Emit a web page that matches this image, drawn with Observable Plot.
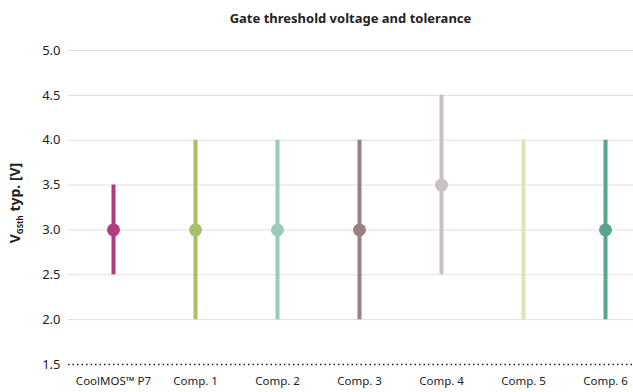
<!DOCTYPE html>
<html>
<head>
<meta charset="utf-8">
<script src="https://cdn.jsdelivr.net/npm/d3@7"></script>
<script src="https://cdn.jsdelivr.net/npm/@observablehq/plot@0.6"></script>
<style>
  html, body { margin: 0; padding: 0; background: #fff; }
  body { width: 633px; height: 392px; overflow: hidden; font-family: "Noto Sans", sans-serif; }
  #title { height: 30px; box-sizing: border-box; padding-left: 68px; text-align: center; font-weight: bold; font-size: 13px; line-height: 36px; color: #222; }
</style>
</head>
<body>
<div id="title">Gate threshold voltage and tolerance</div>
<div id="chart"></div>
<script>
const categories = ["CoolMOS™ P7", "Comp. 1", "Comp. 2", "Comp. 3", "Comp. 4", "Comp. 5", "Comp. 6"];
const minValues = [2.5, 2.0, 2.0, 2.0, 2.5, 2.0, 2.0];
const maxValues = [3.5, 4.0, 4.0, 4.0, 4.5, 4.0, 4.0];
const typValues = [3.0, 3.0, 3.0, 3.0, 3.5, null, 3.0];
const colors = ["#b03b7e", "#a8c06a", "#9ccabb", "#978284", "#cbbfc1", "#dde4b8", "#5aa592"];
const yTicks = [1.5, 2.0, 2.5, 3.0, 3.5, 4.0, 4.5, 5.0];
const gridTicks = [2.0, 2.5, 3.0, 3.5, 4.0, 4.5, 5.0];

const data = categories.map((c, i) => ({cat: c, min: minValues[i], max: maxValues[i], typ: typValues[i], color: colors[i]}));
const dots = data.filter(d => d.typ != null);

const W = 633, H = 362;
const plot = Plot.plot({
  width: W, height: H,
  marginLeft: 68, marginRight: 0, marginTop: 20, marginBottom: 28,
  style: {fontFamily: "Noto Sans, sans-serif", fontSize: "12px", color: "#222", background: "#fff"},
  x: {type: "point", domain: categories, range: [111, 606], padding: 0, label: null},
  y: {domain: [1.5, 5.0], label: null},
  color: {type: "ordinal", domain: categories, range: colors},
  marks: [
    Plot.ruleY(gridTicks, {stroke: "#e5dde0", strokeWidth: 1}),
    Plot.ruleY([1.5], {stroke: "#222", strokeWidth: 1.5, strokeDasharray: "1.5,3"}),
    Plot.axisY(yTicks, {tickSize: 0, tickPadding: 8, fontSize: 13, tickFormat: d3.format(".1f"), label: null}),
    Plot.axisX({tickSize: 0, tickPadding: 12, fontSize: 11.5, label: null}),
    Plot.ruleX(data, {x: "cat", y1: "min", y2: "max", stroke: "cat", strokeWidth: 4}),
    Plot.dot(dots, {x: "cat", y: "typ", fill: "cat", r: 6.5})
  ]
});
document.getElementById("chart").appendChild(plot);

// y-axis title with subscript
const svg = d3.select(plot);
const t = svg.append("text")
  .attr("transform", "translate(20,173) rotate(-90)")
  .attr("text-anchor", "middle")
  .attr("font-family", "Noto Sans, sans-serif")
  .attr("font-weight", "bold")
  .attr("font-size", 14)
  .attr("fill", "#222");
t.append("tspan").text("V");
t.append("tspan").attr("font-size", 8).attr("dy", 3).text("GSth");
t.append("tspan").attr("dy", -3).text(" typ. [V]");
</script>
</body>
</html>
